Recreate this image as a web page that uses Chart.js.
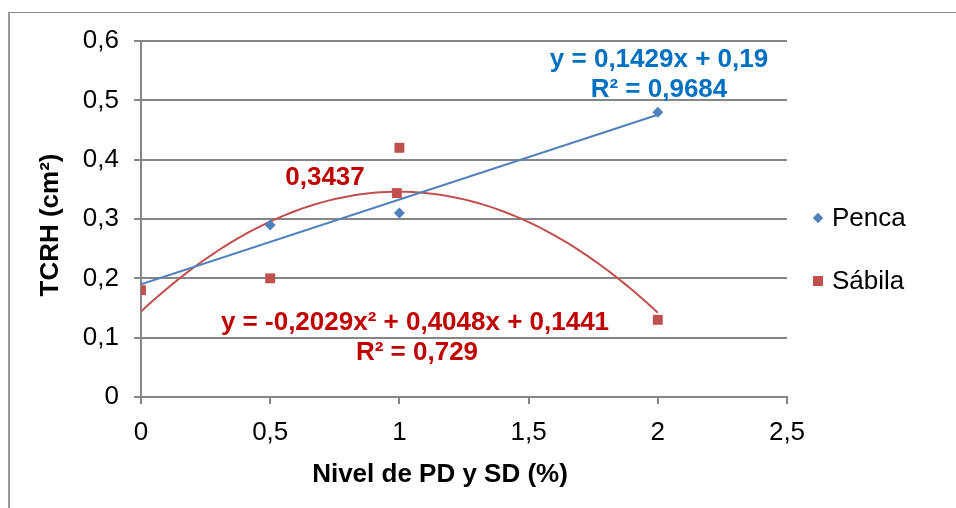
<!DOCTYPE html>
<html><head><meta charset="utf-8">
<script src="https://cdn.jsdelivr.net/npm/chart.js@4/dist/chart.umd.min.js"></script>
<style>
html,body{margin:0;padding:0;background:#fff;}
#wrap{position:relative;width:956px;height:508px;overflow:hidden;background:#fff;}
#frame{position:absolute;left:8px;top:12px;width:1000px;height:600px;border-left:2px solid #9a9a9a;border-top:1px solid #8a8a8a;}
canvas{position:absolute;left:0;top:0;}
</style></head><body>
<div id="wrap"><div id="frame"></div><canvas id="c" width="956" height="508"></canvas></div>
<script>
// ---- data ----
const seriesNames = ['Penca', 'Sábila'];
const pencaX = [0, 0.5, 1, 2];
const pencaY = [0.18, 0.29, 0.31, 0.48];
const sabilaX = [0, 0.5, 0.99, 1, 2];
const sabilaY = [0.18, 0.20, 0.3437, 0.42, 0.13];
const pencaTrend = [0.1429, 0.19];            // y = a x + b
const sabilaTrend = [-0.2029, 0.4048, 0.1441]; // y = a x^2 + b x + c
const xTicks = [0, 0.5, 1, 1.5, 2, 2.5];
const yTicks = [0, 0.1, 0.2, 0.3, 0.4, 0.5, 0.6];
const xTitle = 'Nivel de PD y SD (%)';
const yTitle = 'TCRH (cm²)';
const pencaEq = ['y = 0,1429x + 0,19', 'R² = 0,9684'];
const sabilaEq = ['y = -0,2029x² + 0,4048x + 0,1441', 'R² = 0,729'];
const sabilaMaxLabel = '0,3437';

const BLUE = '#4F81BD', RED = '#C0504D', GRID = '#868686';
const FONT = '"Liberation Sans", Arial, sans-serif';
const fmt = v => String(Math.round(v * 10) / 10).replace('.', ',');

const toPts = (xs, ys) => xs.map((x, i) => ({x, y: ys[i]}));
const xEnd = pencaX[pencaX.length - 1];
const linTrend = [0, xEnd].map(x => ({x, y: pencaTrend[0] * x + pencaTrend[1]}));
const quadTrend = [];
for (let i = 0; i <= 80; i++) {
  const x = xEnd * i / 80;
  quadTrend.push({x, y: sabilaTrend[0] * x * x + sabilaTrend[1] * x + sabilaTrend[2]});
}

const overlay = {
  id: 'overlay',
  afterDraw(chart) {
    const ctx = chart.ctx;
    ctx.save();
    ctx.textAlign = 'center';
    ctx.textBaseline = 'middle';
    ctx.font = 'bold 26px ' + FONT;
    // axis titles
    ctx.fillStyle = '#000';
    ctx.fillText(xTitle, 440, 475);
    ctx.save();
    ctx.translate(51, 225);
    ctx.rotate(-Math.PI / 2);
    ctx.fillText(yTitle, 0, 0);
    ctx.restore();
    // trendline labels
    ctx.fillStyle = '#0070C0';
    ctx.fillText(pencaEq[0], 659, 60);
    ctx.fillText(pencaEq[1], 659, 90);
    ctx.fillStyle = '#C00000';
    ctx.fillText(sabilaMaxLabel, 325, 178);
    ctx.fillText(sabilaEq[0], 415, 323);
    ctx.fillText(sabilaEq[1], 417, 353);
    // legend
    ctx.textAlign = 'left';
    ctx.font = '26px ' + FONT;
    const items = [
      {name: seriesNames[0], color: BLUE, style: 'rectRot', r: 5, y: 218},
      {name: seriesNames[1], color: RED, style: 'rect', r: 7, y: 281}
    ];
    items.forEach(it => {
      ctx.fillStyle = it.color; ctx.strokeStyle = it.color;
      Chart.helpers.drawPoint(ctx, {pointStyle: it.style, radius: it.r, borderWidth: 0}, 818, it.y);
      ctx.fill();
      ctx.fillStyle = '#000';
      ctx.fillText(it.name, 832, it.y + 1);
    });
    ctx.restore();
  }
};

new Chart(document.getElementById('c'), {
  type: 'scatter',
  data: {
    datasets: [
      {label: seriesNames[1], data: toPts(sabilaX, sabilaY), backgroundColor: RED, borderColor: RED,
       pointStyle: 'rect', pointRadius: 7, pointBorderWidth: 0, order: 0},
      {label: seriesNames[0], data: toPts(pencaX, pencaY), backgroundColor: BLUE, borderColor: BLUE,
       pointStyle: 'rectRot', pointRadius: 5.5, pointBorderWidth: 0, order: 1},
      {label: 'trend Penca', data: linTrend, showLine: true, borderColor: BLUE, borderWidth: 2,
       pointRadius: 0, order: 2},
      {label: 'trend Sábila', data: quadTrend, showLine: true, borderColor: RED, borderWidth: 2,
       pointRadius: 0, order: 3}
    ]
  },
  options: {
    responsive: false, animation: false, devicePixelRatio: 1,
    layout: {padding: {left: 0, top: 41, right: 169, bottom: 0}},
    plugins: {legend: {display: false}, tooltip: {enabled: false}},
    scales: {
      x: {
        type: 'linear', min: 0, max: 2.5,
        afterBuildTicks: s => { s.ticks = xTicks.map(v => ({value: v})); },
        afterFit: s => { s.height = 111; },
        ticks: {callback: fmt, color: '#000', font: {family: FONT, size: 26}, padding: 13, maxRotation: 0},
        grid: {drawOnChartArea: false, color: GRID, lineWidth: 2, tickLength: 7},
        border: {color: GRID, width: 2},
        title: {display: false}
      },
      y: {
        min: 0, max: 0.6,
        afterBuildTicks: s => { s.ticks = yTicks.map(v => ({value: v})); },
        afterFit: s => { s.width = 141; },
        ticks: {callback: fmt, color: '#000', font: {family: FONT, size: 26}, padding: 15},
        grid: {color: GRID, lineWidth: 2, tickLength: 7},
        border: {color: GRID, width: 2},
        title: {display: false}
      }
    }
  },
  plugins: [overlay]
});
</script>
</body></html>
